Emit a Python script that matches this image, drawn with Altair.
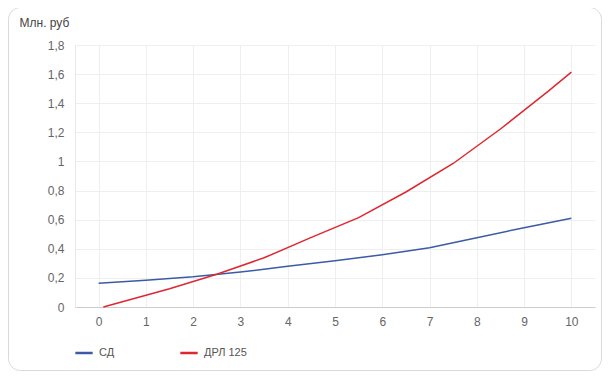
import altair as alt
import pandas as pd

# Series "СД" (blue)
sd_x = [0, 1, 2, 3, 4, 5, 6, 7, 8, 9, 10]
sd_y = [0.163, 0.183, 0.207, 0.240, 0.280, 0.317, 0.359, 0.407, 0.476, 0.545, 0.609]

# Series "ДРЛ 125" (red)
drl_x = [0.1, 1.5, 2.5, 3.5, 4.5, 5.5, 6.5, 7.5, 8.5, 9.5, 10]
drl_y = [0.0, 0.126, 0.225, 0.338, 0.478, 0.614, 0.79, 0.986, 1.223, 1.48, 1.614]

series_names = ["СД", "ДРЛ 125"]
series_colors = ["#3b5ba5", "#e0262f"]

x_ticks = list(range(0, 11))
y_ticks = [0, 0.2, 0.4, 0.6, 0.8, 1.0, 1.2, 1.4, 1.6, 1.8]

rows = []
for x, y in zip(sd_x, sd_y):
    rows.append({"series": series_names[0], "x": x, "y": y, "order": len(rows)})
for x, y in zip(drl_x, drl_y):
    rows.append({"series": series_names[1], "x": x, "y": y, "order": len(rows)})
df = pd.DataFrame(rows)

FONT = "Liberation Sans"
W, H = 520, 262

lines = alt.Chart(df).mark_line(strokeWidth=1.5, interpolate="linear").encode(
    x=alt.X("x:Q",
            scale=alt.Scale(domain=[-0.5, 10.5], nice=False, zero=False),
            axis=alt.Axis(values=x_ticks, title=None, format="d",
                          grid=True, gridColor="#efefef",
                          domainColor="#cccccc", ticks=False,
                          labelPadding=9, labelFontSize=12,
                          labelColor="#666666", labelFont=FONT)),
    y=alt.Y("y:Q",
            scale=alt.Scale(domain=[0, 1.8], nice=False),
            axis=alt.Axis(values=y_ticks, title="Млн. руб",
                          labelExpr="replace(format(datum.value, '.1~f'), '.', ',')",
                          grid=True, gridColor="#efefef",
                          domainColor="#e8e8e8", ticks=False,
                          labelPadding=11, labelFontSize=12,
                          labelColor="#666666", labelFont=FONT,
                          titleAngle=0, titleAlign="left", titleBaseline="middle",
                          titleX=-56, titleY=-23, titleFontSize=12,
                          titleFontWeight="normal", titleColor="#444444",
                          titleFont=FONT)),
    color=alt.Color("series:N",
                    scale=alt.Scale(domain=series_names, range=series_colors),
                    legend=alt.Legend(title=None, orient="none",
                                      legendX=-1, legendY=298,
                                      direction="horizontal",
                                      symbolType="stroke", symbolSize=300,
                                      symbolStrokeWidth=2.5,
                                      labelFontSize=11, labelColor="#555555",
                                      labelFont=FONT, labelOffset=5,
                                      columnPadding=60)),
    detail="series:N",
    order="order:Q",
)

card = alt.Chart(pd.DataFrame({"k": [0]})).mark_rect(
    fill=None, stroke="#d9d9d9", strokeWidth=1, cornerRadius=12
).encode(
    x=alt.value(-66.5), x2=alt.value(526.5),
    y=alt.value(-37.5), y2=alt.value(325.5),
)

chart = alt.layer(card, lines).properties(
    width=W, height=H,
    padding={"left": 67, "top": 37, "right": 7, "bottom": 65},
    autosize=alt.AutoSizeParams(type="none"),
    background="white",
).configure_view(stroke=None)

chart.save("out.html", embed_options={"renderer": "svg", "actions": False})
